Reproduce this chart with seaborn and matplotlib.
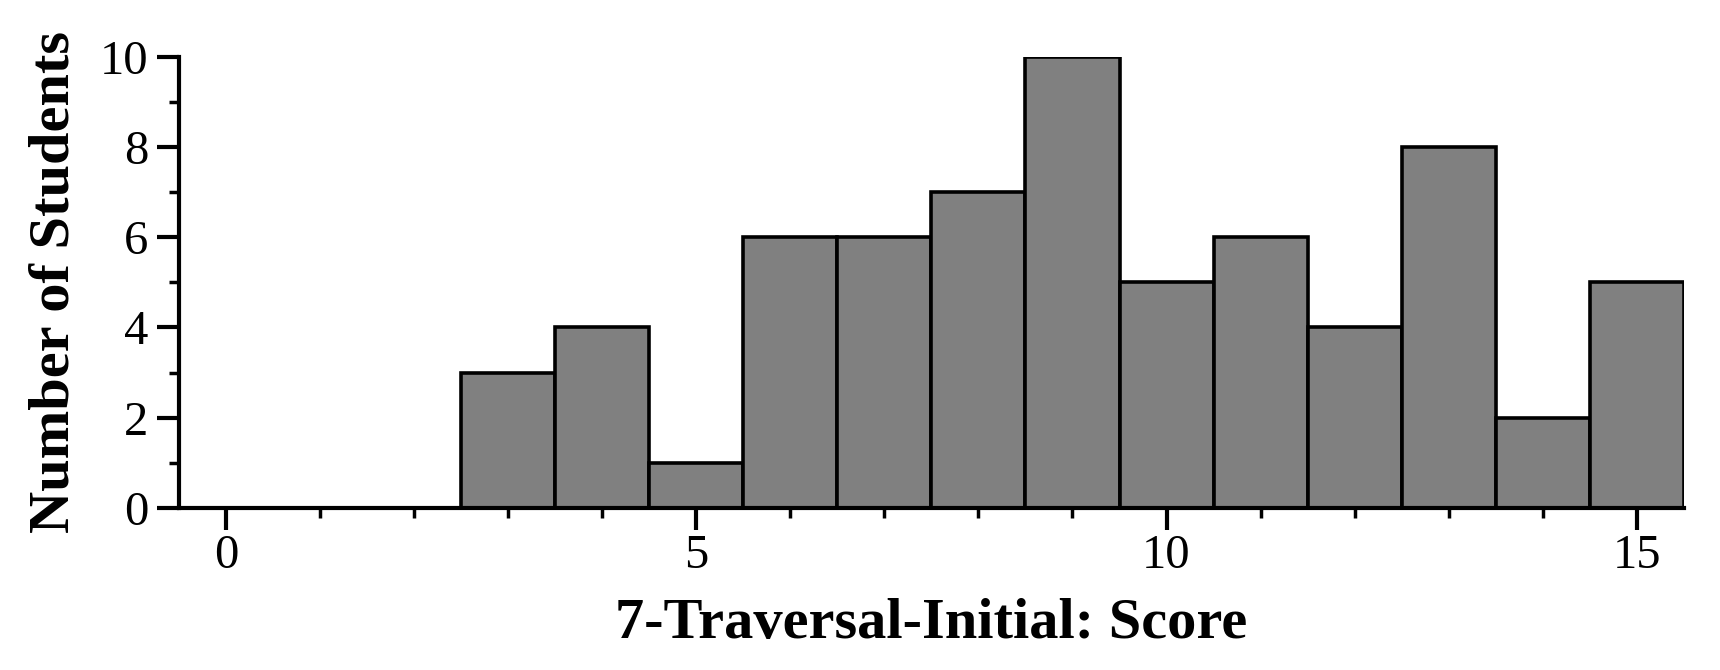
import numpy as np
import pandas as pd
import matplotlib
matplotlib.use("Agg")
import matplotlib.pyplot as plt
import seaborn as sns
from matplotlib.ticker import MultipleLocator

# data: score -> number of students
scores = [0, 1, 2, 3, 4, 5, 6, 7, 8, 9, 10, 11, 12, 13, 14, 15]
counts = [0, 0, 0, 3, 4, 1, 6, 6, 7, 10, 5, 6, 4, 8, 2, 5]

x_label = "7-Traversal-Initial: Score"
y_label = "Number of Students"

sns.set_theme(style="ticks")
plt.rcParams['font.family'] = ['Liberation Serif', 'DejaVu Serif']
plt.rcParams['text.color'] = 'black'
plt.rcParams['axes.labelcolor'] = 'black'

df = pd.DataFrame({'score': scores, 'n': counts})

fig = plt.figure(figsize=(17.2, 6.7), dpi=100)
ax = fig.add_axes([0.104, 0.242, 0.875, 0.673])

sns.histplot(data=df, x='score', weights='n', discrete=True, ax=ax,
             color='#808080', alpha=1, edgecolor='black', linewidth=2.6)

ax.set_xlim(-0.5, 15.5)
ax.set_ylim(0, 10)
ax.xaxis.set_major_locator(MultipleLocator(5))
ax.xaxis.set_minor_locator(MultipleLocator(1))
ax.yaxis.set_major_locator(MultipleLocator(2))
ax.yaxis.set_minor_locator(MultipleLocator(1))

for s in ['top', 'right']:
    ax.spines[s].set_visible(False)
for s in ['left', 'bottom']:
    ax.spines[s].set_linewidth(3)
    ax.spines[s].set_color('black')

ax.tick_params(which='major', direction='out', length=16, width=3, labelsize=35,
               colors='black', labelcolor='black')
ax.tick_params(which='minor', direction='out', length=7, width=2.5, colors='black')
ax.tick_params(axis='x', which='major', pad=3)
ax.tick_params(axis='y', which='major', pad=6)

ax.set_xlabel(x_label, fontsize=42, fontweight='bold', labelpad=14, color='black')
ax.set_ylabel(y_label, fontsize=42, fontweight='bold', labelpad=14, color='black')

fig.savefig("out.png", dpi=100)
